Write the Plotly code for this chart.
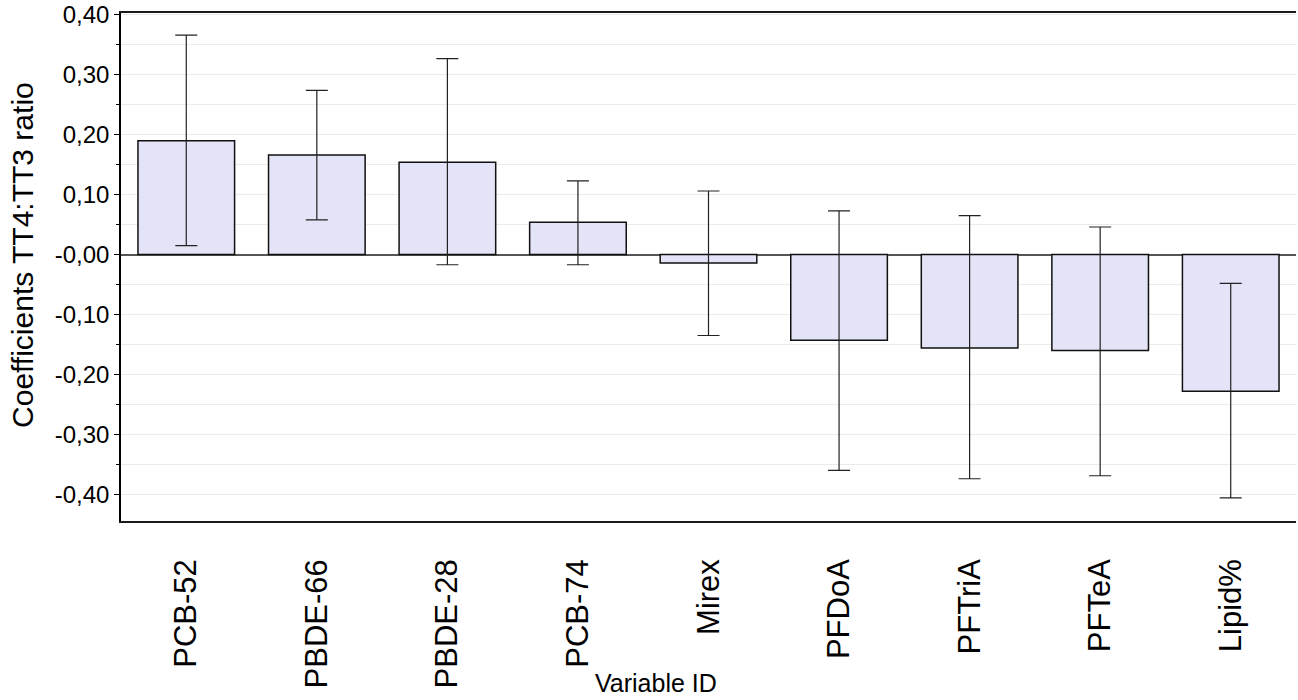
import plotly.graph_objects as go

categories = ["PCB-52", "PBDE-66", "PBDE-28", "PCB-74", "Mirex", "PFDoA", "PFTriA", "PFTeA", "Lipid%"]
coefficients = [0.190, 0.166, 0.154, 0.054, -0.014, -0.143, -0.156, -0.160, -0.228]
ci_upper = [0.366, 0.274, 0.327, 0.123, 0.106, 0.073, 0.065, 0.046, -0.048]
ci_lower = [0.015, 0.058, -0.017, -0.017, -0.135, -0.360, -0.374, -0.369, -0.406]

y_tickvals = [0.40, 0.30, 0.20, 0.10, 0.00, -0.10, -0.20, -0.30, -0.40]
y_ticktext = ["0,40", "0,30", "0,20", "0,10", "-0,00", "-0,10", "-0,20", "-0,30", "-0,40"]

x_title = "Variable ID"
y_title = "Coefficients TT4:TT3 ratio"

err_plus = [u - v for u, v in zip(ci_upper, coefficients)]
err_minus = [v - l for v, l in zip(coefficients, ci_lower)]

FONT = "Liberation Sans, Arial, sans-serif"

fig = go.Figure()
fig.add_trace(go.Bar(
    x=categories,
    y=coefficients,
    marker=dict(color="#e3e4f7", line=dict(color="#111111", width=1.5)),
    error_y=dict(type="data", symmetric=False, array=err_plus, arrayminus=err_minus,
                 color="#222222", thickness=1.2, width=11),
    width=0.74,
))

fig.update_layout(
    width=1298, height=700,
    margin=dict(l=121, r=2, t=13, b=179),
    paper_bgcolor="white", plot_bgcolor="white",
    font=dict(family=FONT, size=22, color="black"),
    showlegend=False,
    xaxis=dict(
        tickangle=-90,
        tickfont=dict(size=31),
        showline=True, linecolor="#1a1a1a", linewidth=1.5, mirror=True,
        ticks="outside", ticklen=24, tickcolor="rgba(0,0,0,0)",
        showgrid=False, automargin=False,
        range=[-0.5, 8.5],
    ),
    yaxis=dict(
        range=[-0.4445, 0.403],
        tickvals=y_tickvals, ticktext=y_ticktext,
        tickfont=dict(size=24),
        ticks="outside", ticklen=5, tickcolor="black", tickwidth=1,
        showline=True, linecolor="black", linewidth=1.5,
        showgrid=True, gridcolor="#ebebeb", gridwidth=1,
        zeroline=True, zerolinecolor="#555555", zerolinewidth=1.5,
        automargin=False,
        minor=dict(dtick=0.05, tick0=0, ticks="outside", ticklen=3, tickcolor="black",
                   showgrid=True, gridcolor="#ebebeb", gridwidth=1),
    ),
    annotations=[
        dict(text=x_title, xref="paper", yref="paper", x=0.455, y=-0.319,
             xanchor="center", yanchor="middle", showarrow=False,
             font=dict(size=25, family=FONT)),
        dict(text=y_title, xref="paper", yref="paper", x=-0.0843, y=0.5236,
             xanchor="center", yanchor="middle", showarrow=False, textangle=-90,
             font=dict(size=30, family=FONT)),
    ],
)

fig.write_html("out.html", config={"displayModeBar": False},
               post_script="document.body.style.margin='0px';")
